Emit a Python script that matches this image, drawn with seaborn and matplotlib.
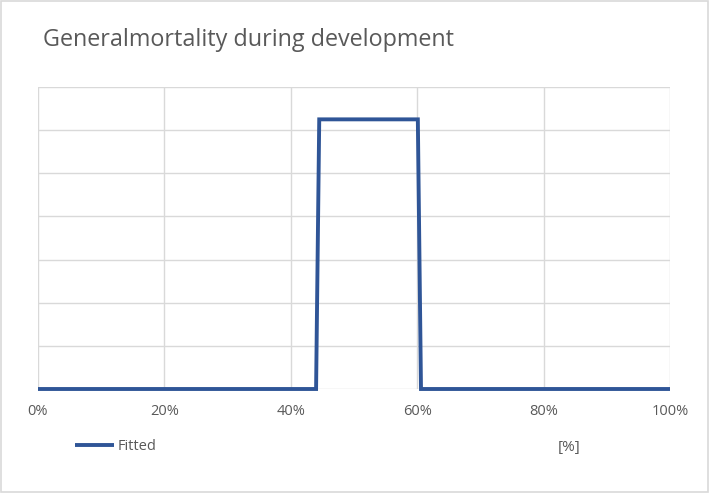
import numpy as np
import pandas as pd
import matplotlib.pyplot as plt
import seaborn as sns
from matplotlib.ticker import PercentFormatter
from matplotlib.patches import Rectangle

# data
x_share = [0.0, 0.440, 0.445, 0.601, 0.606, 1.0]
fitted = [0.0, 0.0, 6.25, 6.25, 0.0, 0.0]
x_ticks = [0.0, 0.2, 0.4, 0.6, 0.8, 1.0]

df = pd.DataFrame({'x': x_share, 'Fitted': fitted})

sns.set_theme(style='white')
plt.rcParams['font.family'] = ['Open Sans', 'DejaVu Sans']

grey = '#595959'
grid = '#d9d9d9'
blue = '#2f5597'

fig = plt.figure(figsize=(7.09, 4.93), dpi=100)
ax = fig.add_axes([38/709, 1-389/493, 632/709, 302/493])

sns.lineplot(data=df, x='x', y='Fitted', ax=ax, color=blue, linewidth=2.8,
             label='Fitted', legend=False, sort=False, clip_on=False,
             solid_capstyle='butt', solid_joinstyle='miter', zorder=5)

ax.set_xlim(0, 1)
ax.set_ylim(0, 7)
ax.set_xticks(x_ticks)
ax.xaxis.set_major_formatter(PercentFormatter(1.0, decimals=0))
ax.set_yticks(range(0, 8))
ax.set_yticklabels([])
ax.grid(True, color=grid, linewidth=1.0)
ax.set_axisbelow(True)
for s in ['top', 'right', 'left', 'bottom']:
    ax.spines[s].set_visible(False)
ax.tick_params(axis='both', length=0, colors=grey, labelsize=10.5)
ax.tick_params(axis='x', pad=11)
ax.set_ylabel('')
ax.set_xlabel('[%]', color=grey, fontsize=11)
ax.xaxis.set_label_coords((569-38)/632, -(448-389)/302)
ax.xaxis.label.set_va('center')

fig.legend(loc='center left', bbox_to_anchor=(75/709, 1-447/493), frameon=False,
           borderpad=0, borderaxespad=0, handlelength=2.7, handletextpad=0.2,
           fontsize=10.5, labelcolor=grey)

fig.text(43/709, 1-40/493, 'Generalmortality during development', color=grey,
         fontsize=16.8, va='center', ha='left')

fig.patches.append(Rectangle((0.002, 0.002), 0.996, 0.996, transform=fig.transFigure,
                             fill=False, edgecolor=grid, linewidth=1.2))

fig.savefig('out.png', dpi=100)
